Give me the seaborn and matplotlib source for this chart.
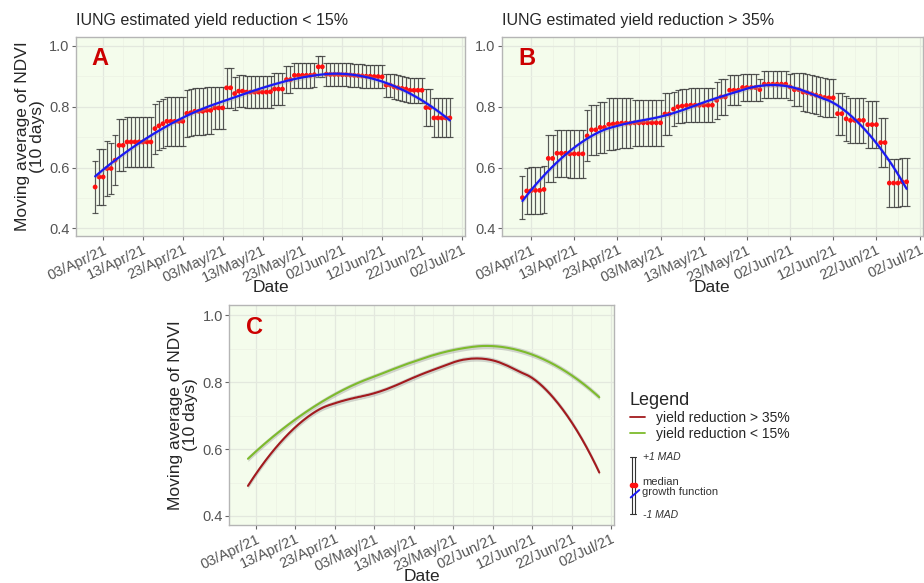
import numpy as np
import pandas as pd
import matplotlib
matplotlib.use("Agg")
import matplotlib.pyplot as plt
import matplotlib.dates as mdates
from matplotlib.lines import Line2D
import seaborn as sns

# ---------------- data ----------------
dates = pd.date_range("2021-04-01", "2021-06-29", freq="D")

tick_labels = ["03/Apr/21", "13/Apr/21", "23/Apr/21", "03/May/21", "13/May/21",
               "23/May/21", "02/Jun/21", "12/Jun/21", "22/Jun/21", "02/Jul/21"]
y_ticks = [0.4, 0.6, 0.8, 1.0]

# IUNG estimated yield reduction < 15% : median and MAD
a_median = [0.536, 0.569, 0.569, 0.597, 0.597, 0.624, 0.673, 0.673, 0.684, 0.684,
            0.684, 0.684, 0.684, 0.684, 0.684, 0.728, 0.737, 0.744, 0.752, 0.752,
            0.752, 0.752, 0.752, 0.778, 0.780, 0.785, 0.785, 0.785, 0.788, 0.788,
            0.796, 0.796, 0.796, 0.862, 0.862, 0.843, 0.851, 0.851, 0.848, 0.848,
            0.848, 0.848, 0.848, 0.848, 0.849, 0.858, 0.858, 0.858, 0.889, 0.889,
            0.903, 0.903, 0.903, 0.903, 0.903, 0.905, 0.931, 0.931, 0.907, 0.906,
            0.906, 0.906, 0.905, 0.905, 0.904, 0.903, 0.902, 0.901, 0.900, 0.900,
            0.899, 0.899, 0.898, 0.871, 0.871, 0.865, 0.862, 0.860, 0.858, 0.854,
            0.854, 0.854, 0.854, 0.797, 0.797, 0.763, 0.763, 0.763, 0.763, 0.763]
a_mad = [0.084, 0.092, 0.092, 0.090, 0.083, 0.082, 0.085, 0.085, 0.081, 0.081,
         0.081, 0.081, 0.081, 0.081, 0.081, 0.082, 0.081, 0.081, 0.081, 0.081,
         0.081, 0.081, 0.081, 0.077, 0.077, 0.077, 0.077, 0.077, 0.077, 0.077,
         0.070, 0.070, 0.070, 0.066, 0.066, 0.055, 0.052, 0.052, 0.052, 0.052,
         0.052, 0.052, 0.052, 0.052, 0.052, 0.053, 0.053, 0.053, 0.044, 0.044,
         0.040, 0.040, 0.040, 0.040, 0.040, 0.040, 0.035, 0.035, 0.038, 0.038,
         0.038, 0.038, 0.038, 0.038, 0.038, 0.038, 0.038, 0.038, 0.038, 0.038,
         0.038, 0.038, 0.038, 0.038, 0.038, 0.041, 0.041, 0.041, 0.041, 0.041,
         0.041, 0.041, 0.041, 0.060, 0.060, 0.064, 0.064, 0.064, 0.064, 0.064]

# IUNG estimated yield reduction > 35% : median and MAD
b_median = [0.501, 0.523, 0.524, 0.525, 0.525, 0.528, 0.630, 0.630, 0.647, 0.647,
            0.647, 0.645, 0.645, 0.645, 0.645, 0.704, 0.724, 0.724, 0.732, 0.732,
            0.742, 0.743, 0.745, 0.746, 0.746, 0.746, 0.747, 0.747, 0.747, 0.747,
            0.747, 0.747, 0.747, 0.776, 0.776, 0.792, 0.800, 0.802, 0.804, 0.805,
            0.805, 0.805, 0.805, 0.805, 0.805, 0.821, 0.832, 0.832, 0.854, 0.854,
            0.854, 0.863, 0.863, 0.863, 0.863, 0.856, 0.874, 0.874, 0.874, 0.874,
            0.874, 0.874, 0.865, 0.856, 0.856, 0.848, 0.846, 0.842, 0.838, 0.834,
            0.830, 0.829, 0.829, 0.777, 0.777, 0.760, 0.755, 0.755, 0.755, 0.755,
            0.741, 0.741, 0.741, 0.682, 0.682, 0.549, 0.549, 0.549, 0.553, 0.553]
b_mad = [0.070, 0.077, 0.077, 0.078, 0.078, 0.078, 0.077, 0.077, 0.078, 0.078,
         0.078, 0.078, 0.078, 0.078, 0.078, 0.084, 0.082, 0.082, 0.084, 0.084,
         0.085, 0.085, 0.085, 0.083, 0.083, 0.083, 0.075, 0.075, 0.075, 0.075,
         0.075, 0.075, 0.075, 0.070, 0.070, 0.055, 0.055, 0.055, 0.055, 0.056,
         0.056, 0.056, 0.056, 0.056, 0.056, 0.060, 0.058, 0.058, 0.050, 0.050,
         0.050, 0.044, 0.044, 0.044, 0.044, 0.036, 0.044, 0.044, 0.044, 0.044,
         0.044, 0.044, 0.044, 0.054, 0.054, 0.063, 0.063, 0.063, 0.063, 0.063,
         0.063, 0.063, 0.063, 0.069, 0.069, 0.074, 0.074, 0.074, 0.074, 0.074,
         0.077, 0.077, 0.077, 0.081, 0.081, 0.078, 0.078, 0.078, 0.078, 0.078]

titles = ["IUNG estimated yield reduction < 15%", "IUNG estimated yield reduction > 35%"]
legend_labels = ["yield reduction > 35%", "yield reduction < 15%"]

# ---------------- style ----------------
sns.set_theme(style="whitegrid")
plt.rcParams["font.family"] = ["Liberation Sans", "DejaVu Sans"]

PANEL_BG = "#F4FCEC"
GRID_MAJ = "#E3E8DE"
GRID_MIN = "#EDF3E6"
BORDER = "#B5B5B5"
TICK_COL = "#555555"
RED_LINE = "#A31A1E"
GREEN_LINE = "#7DBB2C"
BLUE = "#1A1AF5"
LETTER_COL = "#CC0000"
YLABEL = "Moving average of NDVI\n(10 days)"


def loess(x, y, xg, span):
    """Local quadratic regression with tricube weights (R loess default)."""
    n = len(x)
    q = int(np.floor(span * n))
    out = []
    for x0 in xg:
        d = np.abs(x - x0)
        h = np.sort(d)[q - 1]
        w = np.clip(1 - (d / h) ** 3, 0, None) ** 3
        X = np.column_stack([np.ones(n), x - x0, (x - x0) ** 2])
        sw = np.sqrt(w)
        beta = np.linalg.lstsq(X * sw[:, None], y * sw, rcond=None)[0]
        out.append(beta[0])
    return np.array(out)


base = mdates.date2num(dates[0])
xnum = mdates.date2num(dates)
xd = xnum - base
xgrid_d = np.linspace(xd[0], xd[-1], 300)
xgrid_dates = mdates.num2date(xgrid_d + base)

smooth_a = loess(xd, np.array(a_median), xgrid_d, 0.75)
smooth_b = loess(xd, np.array(b_median), xgrid_d, 0.45)

tick_dates = [pd.to_datetime(t, format="%d/%b/%y") for t in tick_labels]
tick_nums = mdates.date2num(tick_dates)
minor_nums = tick_nums[:-1] + 5
XLIM = (base - 4.8, base + 92.8)


def style_axes(ax, ylim):
    ax.set_facecolor(PANEL_BG)
    ax.set_xlim(*XLIM)
    ax.set_ylim(*ylim)
    ax.set_xticks(tick_nums)
    ax.set_xticks(minor_nums, minor=True)
    ax.set_xticklabels(tick_labels, rotation=25, ha="right", rotation_mode="anchor",
                       fontsize=10.5, color=TICK_COL)
    ax.set_yticks(y_ticks)
    ax.set_yticks([0.5, 0.7, 0.9], minor=True)
    ax.set_yticklabels([f"{v:.1f}" for v in y_ticks], fontsize=10.5, color=TICK_COL)
    ax.grid(True, which="major", color=GRID_MAJ, lw=0.9)
    ax.grid(True, which="minor", color=GRID_MIN, lw=0.6)
    ax.tick_params(axis="x", which="major", length=3, width=0.8, color="#666666",
                   pad=2, bottom=True)
    ax.tick_params(axis="y", which="major", length=3, width=0.8, color="#666666",
                   pad=1.5, left=True)
    ax.tick_params(which="minor", length=0)
    for s in ax.spines.values():
        s.set_color(BORDER)
        s.set_linewidth(1.0)
    ax.set_axisbelow(True)


def set_labels(ax, ylabel=True):
    ax.set_xlabel("Date", fontsize=12.5, labelpad=-3)
    if ylabel:
        ax.set_ylabel(YLABEL, fontsize=12.5, labelpad=3, linespacing=1.0)
    else:
        ax.set_ylabel("")


fig = plt.figure(figsize=(9.24, 5.83), dpi=100)
W, H = 924, 583


def add_ax(l, t, r, b):
    return fig.add_axes([l / W, 1 - b / H, (r - l) / W, (b - t) / H])


axA = add_ax(76, 36.7, 465, 236)
axB = add_ax(501.7, 36.7, 923, 236)
axC = add_ax(229, 305, 614.3, 525)

band = 0.008
for ax, med, mad, sm, letter, has_ylab in [
        (axA, a_median, a_mad, smooth_a, "A", True),
        (axB, b_median, b_mad, smooth_b, "B", False)]:
    style_axes(ax, (0.375, 1.03))
    ax.errorbar(dates, med, yerr=mad, fmt="none", ecolor="#3c3c3c",
                elinewidth=0.85, capsize=2.2, capthick=0.85, zorder=2, alpha=0.85)
    sns.scatterplot(x=dates, y=med, ax=ax, color="#FF1010", s=12,
                    edgecolor="none", zorder=3, legend=False)
    ax.fill_between(xgrid_dates, sm - band, sm + band, color="#9A9A9A",
                    alpha=0.35, lw=0, zorder=4)
    sns.lineplot(x=xgrid_dates, y=sm, ax=ax, color=BLUE, lw=1.6, zorder=5)
    ax.set_xlim(*XLIM)
    set_labels(ax, has_ylab)
    ax.text(0.04, 0.89, letter, transform=ax.transAxes, fontsize=17,
            fontweight="bold", color=LETTER_COL, va="center", ha="left")

fig.text(76 / W, 1 - 21 / H, titles[0], fontsize=11.5, va="center", ha="left")
fig.text(501.7 / W, 1 - 21 / H, titles[1], fontsize=11.5, va="center", ha="left")

# panel C
style_axes(axC, (0.373, 1.031))
for sm, col in [(smooth_b, RED_LINE), (smooth_a, GREEN_LINE)]:
    axC.fill_between(xgrid_dates, sm - band, sm + band, color="#9A9A9A",
                     alpha=0.4, lw=0, zorder=3)
    sns.lineplot(x=xgrid_dates, y=sm, ax=axC, color=col, lw=1.5, zorder=4)
axC.set_xlim(*XLIM)
set_labels(axC, True)
axC.text(0.044, 0.90, "C", transform=axC.transAxes, fontsize=17,
         fontweight="bold", color=LETTER_COL, va="center", ha="left")

handles = [Line2D([0], [0], color=RED_LINE, lw=1.3),
           Line2D([0], [0], color=GREEN_LINE, lw=1.3)]
leg = axC.legend(handles, legend_labels, title="Legend", loc="upper left",
                 bbox_to_anchor=(624 / W, 1 - 386 / H), bbox_transform=fig.transFigure,
                 frameon=False, fontsize=10, title_fontsize=13, handlelength=1.1,
                 handletextpad=0.8, labelspacing=0.15, borderaxespad=0)
leg._legend_box.align = "left"

# explanatory glyph (median / MAD / growth function)
g = fig.add_axes([0, 0, 1, 1], facecolor="none")
g.set_xlim(0, W)
g.set_ylim(H, 0)
g.axis("off")
for xb in (632.0, 634.7):
    g.plot([xb, xb], [457, 514], color="#333333", lw=0.8)
g.plot([630.3, 636.4], [457, 457], color="#333333", lw=0.8)
g.plot([630.3, 636.4], [514, 514], color="#333333", lw=0.8)
g.scatter([632.3, 634.8], [485.3, 485.3], color="#FF1010", s=9, zorder=3)
g.plot([630.7, 639.3], [497.5, 490], color=BLUE, lw=1.4, zorder=4)
g.text(643, 456.5, "+1 MAD", fontsize=7.5, style="italic", va="center", color="#333333")
g.text(642.5, 482.0, "median", fontsize=8, va="center", color="#333333")
g.text(642.5, 492.0, "growth function", fontsize=8, va="center", color="#333333")
g.text(643, 515, "-1 MAD", fontsize=7.5, style="italic", va="center", color="#333333")

fig.savefig("out.png", dpi=100)
